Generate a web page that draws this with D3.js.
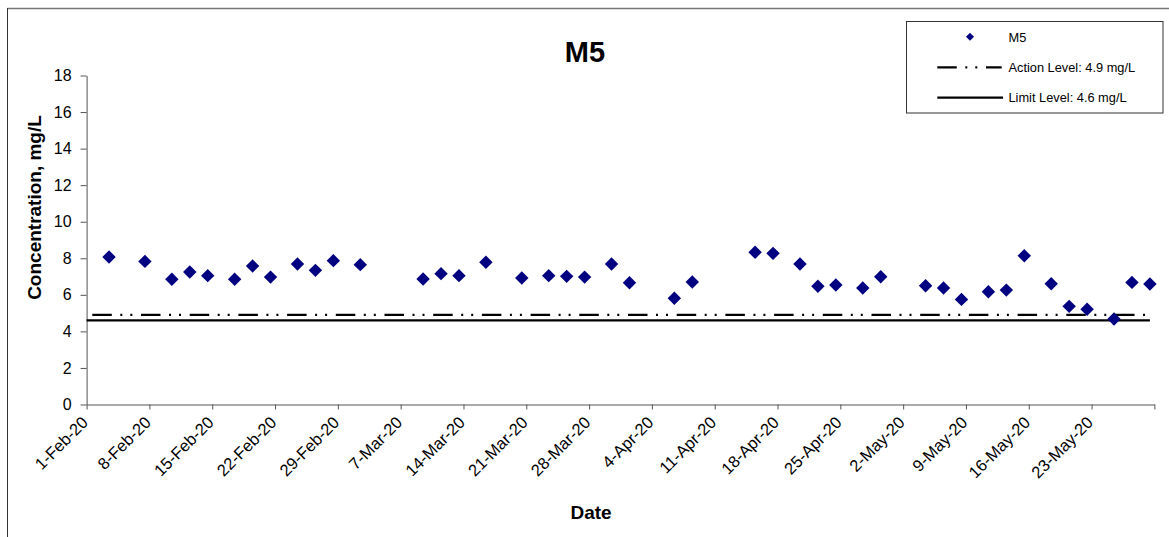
<!DOCTYPE html>
<html>
<head>
<meta charset="utf-8">
<script src="https://cdn.jsdelivr.net/npm/d3@7"></script>
<style>
  html, body { margin: 0; padding: 0; background: #fff; }
  svg { display: block; }
  text { font-family: "Liberation Sans", Arial, sans-serif; }
</style>
</head>
<body>
<svg id="chart" width="1169" height="537"></svg>
<script>
// ---- data ----
const sampleDates = [
  "2020-02-03","2020-02-07","2020-02-10","2020-02-12","2020-02-14","2020-02-17","2020-02-19","2020-02-21",
  "2020-02-24","2020-02-26","2020-02-28","2020-03-02","2020-03-09","2020-03-11","2020-03-13","2020-03-16",
  "2020-03-20","2020-03-23","2020-03-25","2020-03-27","2020-03-30","2020-04-01","2020-04-06","2020-04-08",
  "2020-04-15","2020-04-17","2020-04-20","2020-04-22","2020-04-24","2020-04-27","2020-04-29","2020-05-04",
  "2020-05-06","2020-05-08","2020-05-11","2020-05-13","2020-05-15","2020-05-18","2020-05-20","2020-05-22",
  "2020-05-25","2020-05-27","2020-05-29"
];
const m5Values = [
  8.07, 7.83, 6.85, 7.25, 7.05, 6.85, 7.58, 6.97,
  7.69, 7.34, 7.87, 7.65, 6.87, 7.16, 7.05, 7.78,
  6.92, 7.05, 7.01, 6.97, 7.69, 6.66, 5.81, 6.70,
  8.33, 8.27, 7.69, 6.47, 6.54, 6.37, 6.99, 6.50,
  6.37, 5.75, 6.17, 6.26, 8.14, 6.61, 5.37, 5.21,
  4.68, 6.68, 6.59
];
const actionLevel = 4.9;
const limitLevel = 4.6;
const levelDates = ["2020-02-01", "2020-05-29"];
const xDomainDates = ["2020-02-01", "2020-05-30"];
const xTickDates = [
  "2020-02-01","2020-02-08","2020-02-15","2020-02-22","2020-02-29","2020-03-07","2020-03-14","2020-03-21",
  "2020-03-28","2020-04-04","2020-04-11","2020-04-18","2020-04-25","2020-05-02","2020-05-09","2020-05-16",
  "2020-05-23","2020-05-30"
];
const xTickLabels = [
  "1-Feb-20","8-Feb-20","15-Feb-20","22-Feb-20","29-Feb-20","7-Mar-20","14-Mar-20","21-Mar-20",
  "28-Mar-20","4-Apr-20","11-Apr-20","18-Apr-20","25-Apr-20","2-May-20","9-May-20","16-May-20",
  "23-May-20",""
];
const yTicks = [0, 2, 4, 6, 8, 10, 12, 14, 16, 18];
const seriesName = "M5";
const legendLabels = ["M5", "Action Level: 4.9 mg/L", "Limit Level: 4.6 mg/L"];

// ---- layout ----
const parse = d3.utcParse("%Y-%m-%d");
const halfDay = 12 * 3600 * 1000;
const svg = d3.select("#chart");
const FONT = '"Liberation Sans", Arial, sans-serif';

const x = d3.scaleUtc()
  .domain(xDomainDates.map(parse))
  .range([86.6, 1154.4]);
const y = d3.scaleLinear()
  .domain([0, 18])
  .range([404.5, 75.5]);

// outer frame
svg.append("line").attr("x1", 7.5).attr("x2", 1169).attr("y1", 8.5).attr("y2", 8.5)
  .attr("stroke", "#777").attr("stroke-width", 1.5);
svg.append("line").attr("x1", 7.5).attr("x2", 7.5).attr("y1", 8).attr("y2", 537)
  .attr("stroke", "#333").attr("stroke-width", 1);

// title
svg.append("text").attr("x", 585).attr("y", 62).attr("text-anchor", "middle")
  .attr("font-size", 29).attr("font-weight", "bold").attr("fill", "#000").text(seriesName);

// y axis
const yAxis = svg.append("g").attr("transform", "translate(86.6,0)")
  .call(d3.axisLeft(y).tickValues(yTicks).tickSize(6).tickPadding(9).tickSizeOuter(0));
yAxis.selectAll("path,line").attr("stroke", "#555");
yAxis.selectAll("text").attr("font-family", FONT).attr("font-size", 16).attr("fill", "#000");

// x axis
const xAxis = svg.append("g").attr("transform", "translate(0,404.5)")
  .call(d3.axisBottom(x).tickValues(xTickDates.map(parse)).tickSize(5).tickSizeOuter(0)
    .tickFormat((d, i) => xTickLabels[i]));
xAxis.selectAll("path,line").attr("stroke", "#555");
xAxis.selectAll("text")
  .attr("font-family", FONT).attr("font-size", 16.5).attr("fill", "#000")
  .attr("text-anchor", "end")
  .attr("dy", null)
  .attr("transform", "translate(2,19) rotate(-45)")
  .attr("y", 0).attr("x", 0);

// axis titles
svg.append("text").attr("transform", "translate(40.5,207.5) rotate(-90)")
  .attr("text-anchor", "middle").attr("font-size", 19).attr("font-weight", "bold").text("Concentration, mg/L");
svg.append("text").attr("x", 591).attr("y", 519.3).attr("text-anchor", "middle")
  .attr("font-size", 19).attr("font-weight", "bold").text("Date");

// level lines
const lx1 = x(parse(levelDates[0]));
const lx2 = x(new Date(parse(levelDates[1]).getTime() + halfDay));
const dashPattern = "19.5,8.5,2,8,2,8.7";
svg.append("line").attr("x1", lx1).attr("x2", lx2).attr("y1", y(limitLevel)).attr("y2", y(limitLevel))
  .attr("stroke", "#000").attr("stroke-width", 2.2);
svg.append("line").attr("x1", lx1).attr("x2", lx2).attr("y1", y(actionLevel)).attr("y2", y(actionLevel))
  .attr("stroke", "#000").attr("stroke-width", 2.2)
  .attr("stroke-dasharray", dashPattern).attr("stroke-dashoffset", 43);

// points
const diamond = r => `M0,${-r}L${r},0L0,${r}L${-r},0Z`;
svg.append("g").selectAll("path").data(sampleDates.map((d, i) => ({ d: parse(d), v: m5Values[i] })))
  .join("path")
  .attr("d", diamond(6.7))
  .attr("transform", p => `translate(${x(new Date(p.d.getTime() + halfDay))},${y(p.v)})`)
  .attr("fill", "#000080");

// legend
const lg = svg.append("g");
lg.append("rect").attr("x", 906.5).attr("y", 21.5).attr("width", 256.5).attr("height", 91.5)
  .attr("fill", "#fff").attr("stroke", "#333").attr("stroke-width", 1);
lg.append("path").attr("d", diamond(4)).attr("transform", "translate(970,36.7)").attr("fill", "#000080");
lg.append("line").attr("x1", 937.3).attr("x2", 1001.7).attr("y1", 67.3).attr("y2", 67.3)
  .attr("stroke", "#000").attr("stroke-width", 2.2).attr("stroke-dasharray", dashPattern);
lg.append("line").attr("x1", 937.3).attr("x2", 1003).attr("y1", 97.7).attr("y2", 97.7)
  .attr("stroke", "#000").attr("stroke-width", 2.2);
const legendY = [41.5, 71.8, 102.2];
legendLabels.forEach((t, i) => {
  lg.append("text").attr("x", 1008.5).attr("y", legendY[i]).attr("font-size", 12.8).attr("fill", "#000").text(t);
});
</script>
</body>
</html>
